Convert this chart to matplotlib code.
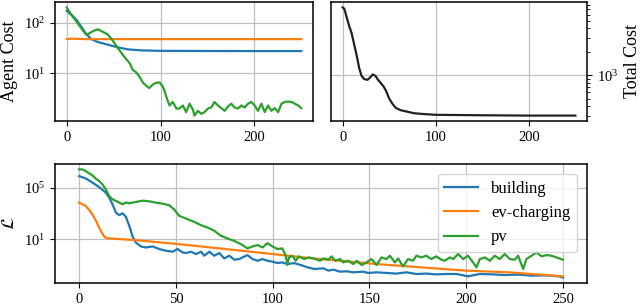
import matplotlib
matplotlib.use("Agg")
import matplotlib.pyplot as plt
import matplotlib.ticker as mticker
import numpy as np

plt.rcParams['font.family'] = ['Liberation Serif', 'DejaVu Serif']
plt.rcParams['mathtext.fontset'] = 'stix'

# ---- top left: agent cost ----
ag_b_x = [0, 4.6, 10, 15, 20.6, 26, 33, 44, 54, 65, 79, 100, 150, 200, 250]
ag_b = [174, 148, 118, 87, 61, 48, 42, 37, 33, 30, 28.6, 28, 27.8, 27.7, 27.7]
ag_o_x = [0, 5, 10, 20, 250]
ag_o = [48, 48.8, 48.6, 47.8, 47.8]
ag_g_x = [0, 4.6, 10, 15, 20.6, 24, 28, 33, 38.4, 43.8, 49, 54.4, 60, 63, 67, 70.5,
          74, 77.6, 81, 84.7, 88, 91.8, 95.4, 99, 102.5, 104, 107.5, 109.6, 113, 117,
          120.2, 123.8, 127.3, 130.9, 134.5, 136.2, 139.8, 143.4, 146.9, 150.5, 154,
          157.6, 161.2, 164.7, 168.3, 171.9, 175.4, 179, 182.5, 186.1, 189.7, 193.2,
          196.8, 200.4, 203.9, 207.5, 211, 214.6, 218.2, 221.7, 225.3, 228.9, 232.4,
          236, 239.6, 243.1, 246.7, 250]
ag_g = [204, 148, 110, 81, 59, 62, 69, 75, 67, 59, 45, 32, 23, 19.5, 16, 11.7,
        10.5, 8.6, 6.6, 5.7, 5.1, 6.0, 6.5, 6.6, 5.4, 4.6, 2.9, 2.3, 2.7, 2.0,
        2.0, 2.3, 1.7, 2.5, 1.9, 1.45, 1.8, 1.57, 1.7, 2.0, 2.1,
        2.7, 2.3, 2.04, 1.8, 2.2, 2.5, 2.1, 2.0, 2.3, 2.1, 2.5,
        2.7, 2.3, 1.8, 2.5, 1.7, 2.3, 1.8, 2.04, 1.7, 2.5, 2.7,
        2.76, 2.7, 2.5, 2.3, 2.04]

# ---- top right: total cost ----
tot_x = [0, 1.8, 4.6, 7, 9.6, 12.5, 15.3, 17.8, 20.3, 23, 26.7, 29.5, 32.4, 35.2,
         38, 41, 43.8, 46.6, 50, 53.4, 57, 62, 69, 76.5, 87, 100, 150, 200, 250]
tot = [7400, 7100, 5400, 4270, 3470, 2450, 1740, 1230, 980, 890, 870, 930, 1020, 980,
       870, 790, 720, 630, 500, 430, 380, 355, 340, 324, 316, 309, 305, 302, 302]

# ---- bottom: loss (log10 of value) ----
ls_b_x = [0, 3.4, 6.9, 10.3, 13.8, 15.5, 17.2, 19, 20.7, 22.4, 24.1, 25.9, 27.6, 29.3,
          31.9, 34.5, 38, 41.4, 44.8, 48.3, 50.9, 53.4, 55.2, 57.8, 60.4, 63, 64.7,
          67.3, 69.8, 72.4, 75, 77.6, 80.2, 82.7, 84.4, 87, 89.6, 92.2, 94.8, 97.3,
          99.9, 102.5, 105, 107.6, 111, 114.5, 118, 121.4, 126.3, 128.8, 131.4, 134.8,
          138.3, 141.7, 146.8, 149.4, 153.7, 158.8, 164, 169.1, 174.3, 179.4, 184.6,
          189.7, 195, 201, 207, 214, 220, 227, 234, 241, 248, 250]
ls_b = [5.90, 5.72, 5.39, 5.05, 4.61, 4.23, 3.71, 3.06, 2.86, 3.01, 2.75, 2.03, 1.21, 0.74,
        0.43, 0.35, 0.43, 0.23, 0.10, 0.02, 0.23, -0.03, -0.08, 0.02, -0.16, 0.02, -0.29,
        0.02, -0.29, -0.08, -0.5, -0.29, -0.6, -0.55, -0.42, -0.24, -0.55, -0.68, -0.55, -0.68,
        -0.75, -0.86, -0.81, -0.94, -0.86, -1.01, -1.19, -1.32, -1.27, -1.45, -1.37, -1.53,
        -1.50, -1.58, -1.53, -1.63, -1.58, -1.63, -1.68, -1.58, -1.71, -1.68, -1.74,
        -1.71, -1.71, -1.89, -1.71, -1.74, -1.79, -1.76, -1.84, -1.82, -1.89, -1.99]
ls_o_x = [0, 3.4, 6, 7.8, 9.5, 11.2, 12.9, 14.1, 16.4, 29.3, 53, 87, 121, 154, 188, 200, 222, 250]
ls_o = [3.84, 3.58, 3.12, 2.68, 2.16, 1.65, 1.21, 1.08, 1.05, 0.92, 0.59, 0.05, -0.5, -0.94,
        -1.32, -1.45, -1.58, -1.89]
ls_g_x = [0, 1.7, 3.4, 5.2, 6.9, 8.6, 10.3, 12, 13.8, 15.5, 17.2, 19, 20.7, 22.4, 24, 25.9,
          29.3, 32.8, 36.2, 39.7, 43, 46.6, 49, 51.7, 56, 59.5, 63, 66.4, 69.8, 73.3, 76.7,
          80, 83.6, 87, 89.6, 92.2, 94.8, 97.3, 99.9, 102.5, 105, 106.8, 107.6, 108.5, 110.2,
          111.9, 113.6, 116.2, 118.8, 122, 124.5, 126.3, 128.8, 130.5, 132.3, 134.8, 136.5,
          139.1, 141.7, 143.4, 146, 148.5, 151.1, 153.7, 156.3, 158.8, 160.6, 163.2, 164.9,
          167.4, 170, 172.6, 174.3, 176.9, 179.4, 182, 184.6, 187.2, 189, 191.6, 193.3,
          195.9, 198.5, 201, 203.6, 205.4, 207.1, 209.7, 212.3, 214.8, 217.4, 220, 222.6,
          225.2, 226.9, 229.5, 231.2, 233.8, 236.4, 239, 241.6, 244.1, 246.7, 250]
ls_g = [6.42, 6.42, 6.29, 6.11, 5.95, 5.70, 5.52, 5.26, 4.87, 4.35, 4.10, 3.97, 3.84, 3.71, 3.84, 3.79,
        3.89, 3.99, 3.94, 3.84, 3.76, 3.63, 3.32, 2.81, 2.55, 2.34, 2.08, 1.90, 1.65, 1.26, 1.05,
        0.87, 0.61, 0.28, 0.43, 0.54, 0.35, 0.69, 0.43, 0.23, 0.28, -0.29, -1.01, -0.42, -0.29,
        -0.68, -0.34, -0.55, -0.42, -0.55, -0.68, -0.5, -0.6, -0.34, -0.68, -0.55, -0.81,
        -0.68, -0.94, -0.68, -1.01, -0.81, -0.55, -1.01, -0.42, -0.55, -0.29, -0.81, -0.5,
        -1.12, -0.55, -0.68, -0.29, -0.42, -0.29, -0.55, -0.34, -0.60, -0.68, -0.42, -0.55,
        -0.16, -0.55, -0.29, -0.81, -1.19, -0.55, -0.42, -0.68, -0.29, -0.55, -0.16, -0.55,
        -0.60, -0.29, -1.32, -0.55, -0.29, -0.03, -0.34, -0.24, -0.29, -0.42, -0.6]
names = ['building', 'ev-charging', 'pv']
colors = ['tab:blue', 'tab:orange', 'tab:green']

fig = plt.figure(figsize=(6.4, 3.05), dpi=100)
ax1 = fig.add_axes([55/640, 184/305, 258/640, 119/305])
ax2 = fig.add_axes([331/640, 184/305, 256/640, 119/305])
ax3 = fig.add_axes([55/640, 22/305, 532/640, 119/305])

lw = 1.6
ax1.plot(ag_b_x, ag_b, c=colors[0], lw=lw)
ax1.plot(ag_o_x, ag_o, c=colors[1], lw=lw)
ax1.plot(ag_g_x, ag_g, c=colors[2], lw=lw)
ax1.set_yscale('log')
ax1.set_ylabel('Agent Cost', fontsize=13)

ax2.plot(tot_x, tot, c='#222222', lw=lw)
ax2.set_yscale('log')
ax2.yaxis.tick_right()
ax2.yaxis.set_label_position('right')
ax2.set_ylabel('Total Cost', fontsize=13)

ax3.plot(ls_b_x, np.power(10.0, ls_b), c=colors[0], lw=lw, label=names[0])
ax3.plot(ls_o_x, np.power(10.0, ls_o), c=colors[1], lw=lw, label=names[1])
ax3.plot(ls_g_x, np.power(10.0, ls_g), c=colors[2], lw=lw, label=names[2])
ax3.set_yscale('log')
ax3.set_yticks([1e1, 1e5])
ax3.set_ylabel(r'$\mathcal{L}$', fontsize=13)
ax3.set_xticks([0, 50, 100, 150, 200, 250])
ax3.legend(loc='upper right', fontsize=12, borderaxespad=0.6)

ax1.set_xticks([0, 100, 200])
ax2.set_xticks([0, 100, 200])
ax1.yaxis.set_minor_locator(mticker.NullLocator())
ax3.yaxis.set_minor_locator(mticker.NullLocator())
ax2.yaxis.set_minor_formatter(mticker.NullFormatter())

for ax in [ax1, ax2, ax3]:
    ax.grid(True, which='major', color='#c0c0c0', lw=0.9)
    ax.tick_params(labelsize=10.5)
    for s in ax.spines.values():
        s.set_linewidth(1.1)

fig.savefig('out.png', dpi=100)
